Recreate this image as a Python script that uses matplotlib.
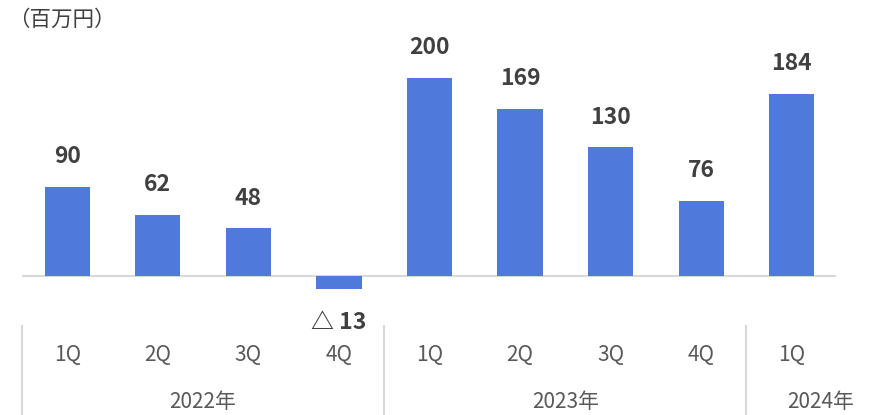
import matplotlib
matplotlib.use("Agg")
import matplotlib.pyplot as plt
import matplotlib.transforms as mtransforms

plt.rcParams['font.family'] = ['Noto Sans CJK JP', 'DejaVu Sans']

quarters = ["1Q", "2Q", "3Q", "4Q", "1Q", "2Q", "3Q", "4Q", "1Q"]
values = [90, 62, 48, -13, 200, 169, 130, 76, 184]
years = ["2022年", "2023年", "2024年"]
group_sizes = [4, 4, 1]
unit_label = "（百万円）"

W, H = 877, 415
fig = plt.figure(figsize=(W / 100, H / 100), dpi=100)

ymin, ymax = -40, 220
px_per_unit = 0.99
base_y = 276
top_px = base_y - ymax * px_per_unit
bot_px = base_y - ymin * px_per_unit
left_px, right_px = 22, 837
ax = fig.add_axes([left_px / W, 1 - bot_px / H, (right_px - left_px) / W, (bot_px - top_px) / H])
ax.set_xlim(-0.5, len(values) - 0.5)
ax.set_ylim(ymin, ymax)
ax.axis("off")

bar_color = "#4F7ADB"
x = list(range(len(values)))
ax.bar(x, values, width=0.5, color=bar_color, zorder=2)
ax.plot([-0.5 - 2 / 90.5, len(values) - 0.5 - 2 / 90.5], [0, 0], color="#D9D9D9", lw=1.5, zorder=1)

for xi, v in zip(x, values):
    if v >= 0:
        ax.annotate(f"{v}", (xi, v), xytext=(0, 30), textcoords="offset pixels",
                    ha="center", va="center", fontsize=16.5, fontweight="bold", color="#404040")
    else:
        ax.annotate(f"△ {abs(v)}", (xi, v), xytext=(0, -34), textcoords="offset pixels",
                    ha="center", va="center", fontsize=16.5, fontweight="bold", color="#404040")

trans = mtransforms.blended_transform_factory(ax.transData, fig.transFigure)
for xi, q in zip(x, quarters):
    ax.text(xi, 1 - 355 / H, q, transform=trans, ha="center", va="center",
            fontsize=15, color="#595959")

# group separators and year labels
start = 0
seps = [-0.5]
for g in group_sizes:
    start += g
    seps.append(start - 0.5)
for s in seps[:-1]:
    ax.plot([s, s], [1 - 326 / H, 0], transform=trans, color="#D9D9D9",
            lw=1.5, clip_on=False)
year_x = []
for i in range(len(group_sizes)):
    a, b = seps[i], seps[i + 1]
    year_x.append((a + b) / 2 if group_sizes[i] > 1 else b - 0.18)
for yx, y in zip(year_x, years):
    ax.text(yx, 1 - 402 / H, y, transform=trans, ha="center", va="center",
            fontsize=15, color="#595959")

fig.text(8 / W, 1 - 20 / H, unit_label, ha="left", va="center", fontsize=15.5, color="#404040")

fig.savefig("out.png", dpi=100)
